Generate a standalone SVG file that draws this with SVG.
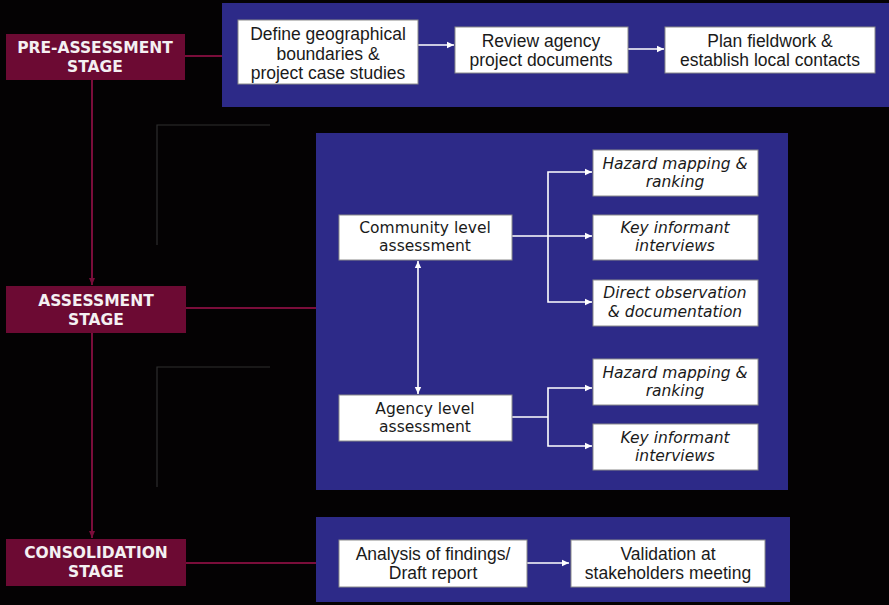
<svg xmlns="http://www.w3.org/2000/svg" width="889" height="605" viewBox="0 0 889 605">
  <defs>
    <marker id="wa" markerWidth="8" markerHeight="8" refX="7" refY="4" orient="auto-start-reverse" markerUnits="userSpaceOnUse">
      <path d="M0,0.8 L7,4 L0,7.2 Z" fill="#ffffff"/>
    </marker>
    <marker id="ma" markerWidth="8" markerHeight="8" refX="7" refY="4" orient="auto" markerUnits="userSpaceOnUse">
      <path d="M0,1 L7,4 L0,7 Z" fill="#7a0d3a"/>
    </marker>
    <style>
      .stage { fill: #6c0a33; }
      .stage-t { font-family: "DejaVu Sans", Verdana, sans-serif; font-weight: bold; font-size: 15.5px; fill: #f4f0f2; text-anchor: middle; }
      .panel { fill: #2d2a88; }
      .box { fill: #ffffff; stroke: #8a8a8a; stroke-width: 1; }
      .t { font-family: "Liberation Sans", Arial, sans-serif; font-size: 17.5px; fill: #1a1a1a; text-anchor: middle; }
      .tv { font-family: "DejaVu Sans", Verdana, sans-serif; font-size: 15.5px; fill: #1a1a1a; text-anchor: middle; }
      .ti { font-family: "DejaVu Sans", Verdana, sans-serif; font-size: 15.5px; font-style: italic; fill: #1a1a1a; text-anchor: middle; }
      .wl { stroke: #ffffff; stroke-width: 1.6; fill: none; }
      .ml { stroke: #7a0d3a; stroke-width: 2; fill: none; }
      .gl { stroke: #2e2e2e; stroke-width: 1.2; fill: none; }
    </style>
  </defs>

  <rect x="0" y="0" width="889" height="605" fill="#040203"/>

  <!-- stage panels -->
  <rect class="panel" x="222" y="3" width="667" height="104"/>
  <rect class="panel" x="316" y="133" width="472" height="357"/>
  <rect class="panel" x="316" y="517" width="474" height="85"/>

  <!-- faint bracket guides -->
  <g id="guides">
    <path class="gl" d="M157,245 V125 H270"/>
    <path class="gl" d="M157,487 V367 H270"/>
  </g>

  <!-- connectors -->
  <g id="connectors">
    <path class="ml" d="M185,56 H222"/>
    <path class="ml" d="M186,308 H316"/>
    <path class="ml" d="M186,563 H316"/>
    <path class="ml" d="M92,80 V285" marker-end="url(#ma)"/>
    <path class="ml" d="M92,333 V538" marker-end="url(#ma)"/>

    <path class="wl" d="M418,45 H454" marker-end="url(#wa)"/>
    <path class="wl" d="M628,49 H664" marker-end="url(#wa)"/>

    <path class="wl" d="M512,236 H592" marker-end="url(#wa)"/>
    <path class="wl" d="M548,236 V172 H592" marker-end="url(#wa)"/>
    <path class="wl" d="M548,236 V302 H592" marker-end="url(#wa)"/>

    <path class="wl" d="M418,261 V394" marker-start="url(#wa)" marker-end="url(#wa)"/>

    <path class="wl" d="M512,417 H548"/>
    <path class="wl" d="M548,417 V388 H592" marker-end="url(#wa)"/>
    <path class="wl" d="M548,417 V446 H592" marker-end="url(#wa)"/>

    <path class="wl" d="M527,563 H569" marker-end="url(#wa)"/>
  </g>

  <!-- stages -->
  <g id="pre-assessment-stage">
    <rect class="stage" x="6" y="34" width="179" height="46"/>
    <text class="stage-t" x="95" y="53">PRE-ASSESSMENT</text>
    <text class="stage-t" x="95" y="72">STAGE</text>
  </g>
  <g id="assessment-stage">
    <rect class="stage" x="6" y="286" width="180" height="47"/>
    <text class="stage-t" x="96" y="306">ASSESSMENT</text>
    <text class="stage-t" x="96" y="325">STAGE</text>
  </g>
  <g id="consolidation-stage">
    <rect class="stage" x="6" y="539" width="180" height="47"/>
    <text class="stage-t" x="96" y="558">CONSOLIDATION</text>
    <text class="stage-t" x="96" y="577">STAGE</text>
  </g>

  <!-- pre-assessment steps -->
  <g id="define-boundaries">
    <rect class="box" x="238" y="20" width="180" height="64"/>
    <text class="t" x="328" y="40">Define geographical</text>
    <text class="t" x="328" y="60">boundaries &amp;</text>
    <text class="t" x="328" y="79">project case studies</text>
  </g>
  <g id="review-documents">
    <rect class="box" x="455" y="27" width="173" height="46"/>
    <text class="t" x="541" y="47">Review agency</text>
    <text class="t" x="541" y="66">project documents</text>
  </g>
  <g id="plan-fieldwork">
    <rect class="box" x="665" y="27" width="210" height="46"/>
    <text class="t" x="770" y="47">Plan fieldwork &amp;</text>
    <text class="t" x="770" y="66">establish local contacts</text>
  </g>

  <!-- assessment steps -->
  <g id="community-level">
    <rect class="box" x="339" y="215" width="173" height="45"/>
    <text class="tv" x="425" y="233">Community level</text>
    <text class="tv" x="425" y="251">assessment</text>
  </g>
  <g id="agency-level">
    <rect class="box" x="339" y="395" width="173" height="46"/>
    <text class="tv" x="425" y="414">Agency level</text>
    <text class="tv" x="425" y="432">assessment</text>
  </g>
  <g id="community-hazard-mapping">
    <rect class="box" x="593" y="150" width="165" height="46"/>
    <text class="ti" x="675" y="169">Hazard mapping &amp;</text>
    <text class="ti" x="675" y="187">ranking</text>
  </g>
  <g id="community-key-informant">
    <rect class="box" x="593" y="215" width="165" height="45"/>
    <text class="ti" x="675" y="233">Key informant</text>
    <text class="ti" x="675" y="251">interviews</text>
  </g>
  <g id="direct-observation">
    <rect class="box" x="593" y="280" width="165" height="46"/>
    <text class="ti" x="675" y="298">Direct observation</text>
    <text class="ti" x="675" y="317">&amp; documentation</text>
  </g>
  <g id="agency-hazard-mapping">
    <rect class="box" x="593" y="359" width="165" height="46"/>
    <text class="ti" x="675" y="378">Hazard mapping &amp;</text>
    <text class="ti" x="675" y="396">ranking</text>
  </g>
  <g id="agency-key-informant">
    <rect class="box" x="593" y="424" width="165" height="46"/>
    <text class="ti" x="675" y="443">Key informant</text>
    <text class="ti" x="675" y="461">interviews</text>
  </g>

  <!-- consolidation steps -->
  <g id="analysis-findings">
    <rect class="box" x="339" y="540" width="188" height="47"/>
    <text class="t" x="433" y="560">Analysis of findings/</text>
    <text class="t" x="433" y="579">Draft report</text>
  </g>
  <g id="validation-meeting">
    <rect class="box" x="571" y="540" width="194" height="47"/>
    <text class="t" x="668" y="560">Validation at</text>
    <text class="t" x="668" y="579">stakeholders meeting</text>
  </g>
</svg>
